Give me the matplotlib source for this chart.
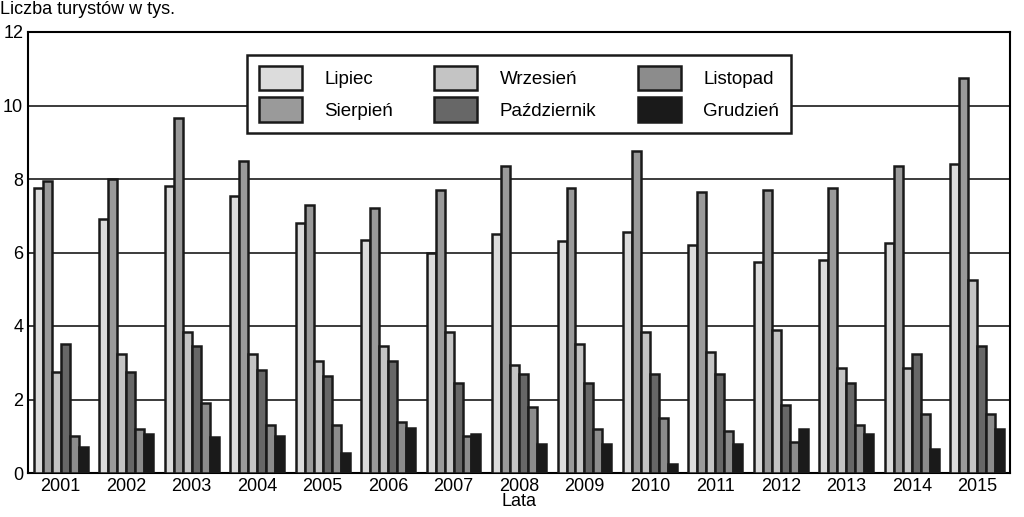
import matplotlib
matplotlib.use("Agg")
import matplotlib.pyplot as plt
import numpy as np

plt.rcParams["font.family"] = "Liberation Sans"

years = [str(y) for y in range(2001, 2016)]
lipiec = [7.75, 6.9, 7.8, 7.55, 6.8, 6.35, 6.0, 6.5, 6.3, 6.55, 6.2, 5.75, 5.8, 6.25, 8.4]
sierpien = [7.95, 8.0, 9.65, 8.5, 7.3, 7.2, 7.7, 8.35, 7.75, 8.75, 7.65, 7.7, 7.75, 8.35, 10.75]
wrzesien = [2.75, 3.25, 3.85, 3.25, 3.05, 3.45, 3.85, 2.95, 3.5, 3.85, 3.3, 3.9, 2.85, 2.85, 5.25]
pazdziernik = [3.5, 2.75, 3.45, 2.8, 2.65, 3.05, 2.45, 2.7, 2.45, 2.7, 2.7, 1.85, 2.45, 3.25, 3.45]
listopad = [1.0, 1.2, 1.9, 1.3, 1.3, 1.38, 1.0, 1.8, 1.2, 1.5, 1.15, 0.85, 1.3, 1.6, 1.6]
grudzien = [0.7, 1.05, 0.97, 1.0, 0.55, 1.22, 1.07, 0.8, 0.8, 0.25, 0.8, 1.2, 1.05, 0.65, 1.2]

series = [("Lipiec", lipiec, "#dcdcdc"), ("Sierpień", sierpien, "#9a9a9a"),
          ("Wrzesień", wrzesien, "#c4c4c4"), ("Październik", pazdziernik, "#676767"),
          ("Listopad", listopad, "#8c8c8c"), ("Grudzień", grudzien, "#1a1a1a")]

fig = plt.figure(figsize=(10.24, 5.17), dpi=100)
ax = fig.add_axes([28/1024, 1-473/517, 982/1024, 441/517])
x = np.arange(len(years))
w = 0.137
for i, (name, vals, col) in enumerate(series):
    ax.bar(x + (i - 2.5) * w, vals, w, color=col, edgecolor="#1a1a1a", linewidth=1.8,
           label=name, zorder=3)
ax.set_xlim(-0.5, len(years) - 0.5)
ax.set_ylim(0, 12)
ax.set_yticks(range(0, 13, 2))
ax.set_xticks(x)
ax.set_xticklabels(years)
ax.tick_params(length=0, labelsize=13)
ax.yaxis.grid(True, color="#1a1a1a", linewidth=1.2, zorder=0)
for s in ax.spines.values():
    s.set_linewidth(1.5)
ax.set_xlabel("Lata", fontsize=13, labelpad=-1)
fig.text(0.0, 1-9/517, "Liczba turystów w tys.", fontsize=13, va="center", ha="left")
leg = ax.legend(ncol=3, loc="upper center", bbox_to_anchor=(0.5, 0.97), fontsize=13.5,
                frameon=True, fancybox=False, edgecolor="#1a1a1a", handlelength=2.3,
                handleheight=1.6, columnspacing=2.2, borderpad=0.6, labelspacing=0.4,
                handletextpad=1.2, framealpha=1)
leg.get_frame().set_linewidth(1.8)
leg.set_zorder(5)
fig.savefig("out.png", dpi=100)
